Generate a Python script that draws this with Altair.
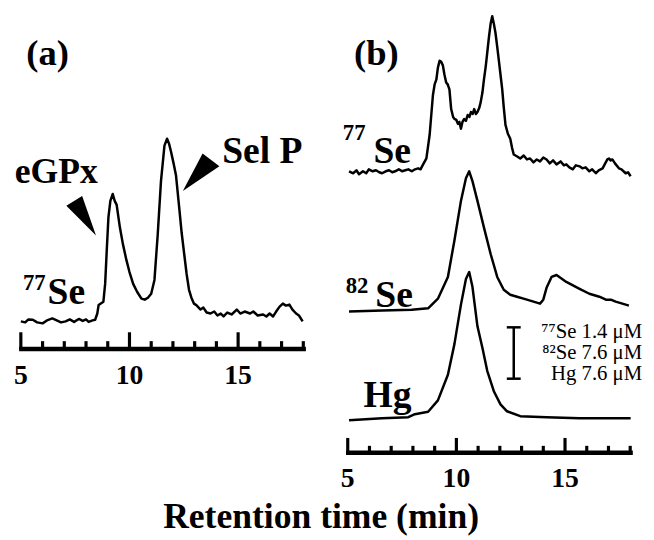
import altair as alt
import pandas as pd

# ---------------- data (retention time in min, signal in arbitrary units) ----------------
a77_t = [5.0, 5.2, 5.35, 5.55, 5.75, 6.0, 6.2, 6.45, 6.65, 6.85, 7.06, 7.25, 7.45, 7.67, 7.85, 8.0,
         8.12, 8.3, 8.42, 8.52, 8.58, 8.8, 8.88, 8.95, 9.03, 9.12, 9.23, 9.32, 9.41, 9.56, 9.7, 9.86,
         10.0, 10.17, 10.35, 10.55, 10.7, 10.85, 11.0, 11.15, 11.3, 11.45, 11.61, 11.73, 11.82, 11.91,
         12.03, 12.14, 12.29, 12.4, 12.52, 12.63, 12.74, 12.85, 12.97, 13.1, 13.27, 13.4, 13.55, 13.73,
         13.9, 14.05, 14.2, 14.33, 14.5, 14.7, 14.94, 15.1, 15.3, 15.55, 15.7, 15.9, 16.15, 16.3, 16.45,
         16.61, 16.75, 16.91, 17.06, 17.2, 17.36, 17.5, 17.67, 17.8, 17.97]
a77_i = [0, -1, 2, 1.7, -1, -2, 1, 3, 1, -1, 0, 2, -0.5, 2.5, 0.5, 2,
         -0.5, 1, 1.7, 8, 16.7, 20, 38, 70, 105, 122, 129, 122, 118, 95, 78, 62,
         50, 38, 30, 23, 22, 24, 28, 42, 88, 142, 178, 185, 180, 172,
         160, 148, 115, 90, 68, 48, 32, 24, 18, 16, 12, 14, 9, 8,
         10, 6, 8, 5, 9, 7, 12, 8, 10, 8, 10, 6, 7, 5, 8,
         5, 10, 15, 18, 16, 17, 12, 8, 6, 0]

b77_t = [5.06, 5.25, 5.4, 5.52, 5.7, 5.85, 5.97, 6.15, 6.3, 6.45, 6.58, 6.75, 6.9, 7.05, 7.18, 7.35,
         7.5, 7.65, 7.79, 7.95, 8.1, 8.24, 8.35, 8.47, 8.62, 8.77, 8.92, 9.0, 9.08, 9.15, 9.23, 9.3,
         9.38, 9.45, 9.53, 9.6, 9.68, 9.76, 9.85, 9.91, 10.0, 10.07, 10.14, 10.21, 10.28, 10.36, 10.44,
         10.52, 10.6, 10.67, 10.75, 10.82, 10.9, 10.97, 11.05, 11.12, 11.2, 11.27, 11.35, 11.42, 11.5,
         11.58, 11.65, 11.72, 11.8, 11.88, 11.95, 12.03, 12.11, 12.18, 12.26, 12.37, 12.48, 12.56, 12.64,
         12.8, 12.94, 13.1, 13.25, 13.39, 13.55, 13.7, 13.85, 14.0, 14.15, 14.3, 14.45, 14.61, 14.8,
         14.95, 15.06, 15.2, 15.36, 15.5, 15.67, 15.8, 15.95, 16.12, 16.25, 16.42, 16.55, 16.73, 16.85,
         16.95, 17.03, 17.1, 17.18, 17.3, 17.48, 17.6, 17.79, 17.9, 18.02]
b77_i = [0, -2, 1, -3, 0, -2, 2, 0, 1, -1, -2, 0, 1, -1, 0, 2,
         0, 1, 2, 0, 2, 3, 2, 7, 13, 37, 77, 88, 93, 105, 112, 111,
         107, 98, 90, 88, 83, 63, 55, 53, 52, 48, 50, 43, 50, 53, 51,
         57, 55, 60, 58, 63, 58, 60, 64, 70, 80, 93, 106, 120, 136,
         150, 157, 150, 140, 126, 113, 98, 83, 65, 47, 38, 33, 24, 17,
         15, 13, 16, 12, 13, 9, 12, 10, 14, 12, 8, 11, 7, 10,
         6, 7, 4, 2, 6, 5, 3, 4, 0, 2, -2, 1, 3, 8,
         12, 13, 11, 12, 8, 3, 2, -2, -1, -5]

b82_t = [5.06, 6.58, 7.94, 8.7, 9.15, 9.61, 9.91, 10.21, 10.44, 10.59, 10.74, 10.97, 11.27, 11.58,
         11.88, 12.18, 12.48, 12.79, 13.09, 13.55, 13.85, 14.0, 14.15, 14.38, 14.61, 15.06, 15.67, 16.12,
         16.58, 16.88, 17.11, 17.33, 17.64, 17.94]
b82_i = [0, 1, 1.7, 3.3, 13, 35, 72, 112, 135, 142, 132, 112, 85, 58,
         35, 22, 17, 15, 13, 10, 8, 12, 24, 35, 37, 30, 23, 18,
         15, 12, 12, 10, 8, 6]

hg_t = [5.06, 6.58, 7.79, 8.09, 8.7, 9.15, 9.61, 9.91, 10.21, 10.44, 10.59, 10.74, 10.97, 11.2,
        11.42, 11.73, 12.03, 12.33, 12.94, 14.15, 15.67, 18.02]
hg_i = [-1, 1, 2, 5, 7.5, 19, 45, 76, 116, 142, 149, 134, 94, 72,
        49, 28, 15, 8, 3, 2, 1, 1]

tick_times = list(range(5, 19))
major_ticks = [5, 10, 15]
tick_labels = ["5", "10", "15"]
scale_texts = ["\u2077\u2077Se 1.4 \u03bcM", "\u2078\u00b2Se 7.6 \u03bcM", "Hg 7.6 \u03bcM"]
x_title = "Retention time (min)"

# ---------------- layout (page pixels -> data units) ----------------
W, H = 646, 532
PX = 22.0                      # pixels per minute
A0 = 5 - 13 / PX               # panel (a) x-domain start
B0 = 5 - 344 / PX              # panel (b) x-domain start
XA = alt.Scale(domain=[A0, A0 + W / PX], nice=False, zero=False)
XB = alt.Scale(domain=[B0, B0 + W / PX], nice=False, zero=False)
YS = alt.Scale(domain=[0, H], nice=False, zero=False)

SERIF = "Liberation Serif"


def trace_df(ts, vals, base, name):
    return pd.DataFrame({"t": ts, "v": [base + v for v in vals], "s": name})


def line_layer(df, xs):
    return alt.Chart(df).mark_line(color="black", strokeWidth=2.5, strokeJoin="round").encode(
        x=alt.X("t:Q", scale=xs, axis=None),
        y=alt.Y("v:Q", scale=YS, axis=None),
        detail="s:N",
    )


def axis_layers(xs, base, major_top, minor_top, label_v):
    tdf = pd.DataFrame({"t": tick_times})
    tdf["y0"] = base
    tdf["y1"] = [major_top if t in major_ticks else minor_top for t in tick_times]
    ticks = alt.Chart(tdf).mark_rule(color="black", strokeWidth=3.2).encode(
        x=alt.X("t:Q", scale=xs, axis=None),
        y=alt.Y("y0:Q", scale=YS, axis=None),
        y2="y1:Q",
    )
    ldf = pd.DataFrame({"t0": [tick_times[0] - 0.08], "t1": [tick_times[-1] + 0.12], "y": [base]})
    line = alt.Chart(ldf).mark_rule(color="black", strokeWidth=4.5).encode(
        x=alt.X("t0:Q", scale=xs, axis=None), x2="t1:Q",
        y=alt.Y("y:Q", scale=YS, axis=None),
    )
    labdf = pd.DataFrame({"t": major_ticks, "lab": tick_labels, "y": label_v})
    labs = alt.Chart(labdf).mark_text(font=SERIF, fontWeight="bold", fontSize=28,
                                      baseline="middle", align="center", color="black").encode(
        x=alt.X("t:Q", scale=xs, axis=None),
        y=alt.Y("y:Q", scale=YS, axis=None),
        text="lab:N",
    )
    return [line, ticks, labs]


def text_layer(ts, vs, texts, xs, size, align="left", weight="bold", baseline="alphabetic", clip=False):
    df = pd.DataFrame({"t": ts, "v": vs, "txt": texts})
    return alt.Chart(df).mark_text(font=SERIF, fontWeight=weight, fontSize=size, align=align,
                                   baseline=baseline, color="black", clip=clip).encode(
        x=alt.X("t:Q", scale=xs, axis=None),
        y=alt.Y("v:Q", scale=YS, axis=None),
        text="txt:N",
    )


def arrow_layer(t, v, path, xs):
    df = pd.DataFrame({"t": [t], "v": [v]})
    return alt.Chart(df).mark_point(shape=path, size=400, filled=True, color="black",
                                    opacity=1, strokeWidth=0).encode(
        x=alt.X("t:Q", scale=xs, axis=None),
        y=alt.Y("v:Q", scale=YS, axis=None),
    )


# ---------------- panel (a) ----------------
panel_a = alt.layer(
    line_layer(trace_df(a77_t, a77_i, 218, "a77"), XA),
    *axis_layers(XA, 190, 207, 198, 163),
    text_layer([6.23], [478], ["(a)"], XA, 37, align="center"),
    text_layer([6.23], [236], ["Se"], XA, 38),
    text_layer([6.14], [250], ["77"], XA, 23, align="right"),
    text_layer([4.72], [358], ["eGPx"], XA, 36),
    text_layer([14.27], [378], ["Sel P"], XA, 38),
    arrow_layer(7.79, 328.3, "M-1.53,-0.67L0.07,-1.67L1.47,2.33Z", XA),
    arrow_layer(13.32, 371, "M-1.9,2.1L0.1,-1.7L1.8,-0.4Z", XA),
    text_layer([18.82], [9], [x_title], XA, 36, align="center", clip=True),
)

# ---------------- panel (b) ----------------
bar_df = pd.DataFrame({"t": [12.64], "y0": [160], "y1": [212]})
bar_v = alt.Chart(bar_df).mark_rule(color="black", strokeWidth=2.5).encode(
    x=alt.X("t:Q", scale=XB, axis=None), y=alt.Y("y0:Q", scale=YS, axis=None), y2="y1:Q")
caps_df = pd.DataFrame({"t0": [12.32, 12.32], "t1": [12.96, 12.96], "y": [160, 212]})
bar_caps = alt.Chart(caps_df).mark_rule(color="black", strokeWidth=2.5).encode(
    x=alt.X("t0:Q", scale=XB, axis=None), x2="t1:Q", y=alt.Y("y:Q", scale=YS, axis=None))

panel_b = alt.layer(
    line_layer(pd.concat([trace_df(b77_t, b77_i, 370, "b77"),
                          trace_df(b82_t, b82_i, 228, "b82"),
                          trace_df(hg_t, hg_i, 119, "hg")]), XB),
    *axis_layers(XB, 85, 100, 92, 58),
    text_layer([6.32], [478], ["(b)"], XB, 37, align="center"),
    text_layer([6.18, 6.27, 5.73], [378, 233, 131], ["Se", "Se", "Hg"], XB, 38),
    text_layer([5.82, 5.95], [402, 247], ["77", "82"], XB, 23, align="right"),
    bar_v, bar_caps,
    text_layer([18.55, 18.55, 18.55], [201, 180, 159], scale_texts, XB, 21, align="right",
               weight="normal"),
)

chart = alt.layer(panel_a, panel_b).resolve_scale(x="independent").properties(
    width=W, height=H, padding=0,
    autosize=alt.AutoSizeParams(type="fit", contains="padding"),
    background="white",
).configure_view(stroke=None)

chart.save("out.html", embed_options={"renderer": "svg", "actions": False})
